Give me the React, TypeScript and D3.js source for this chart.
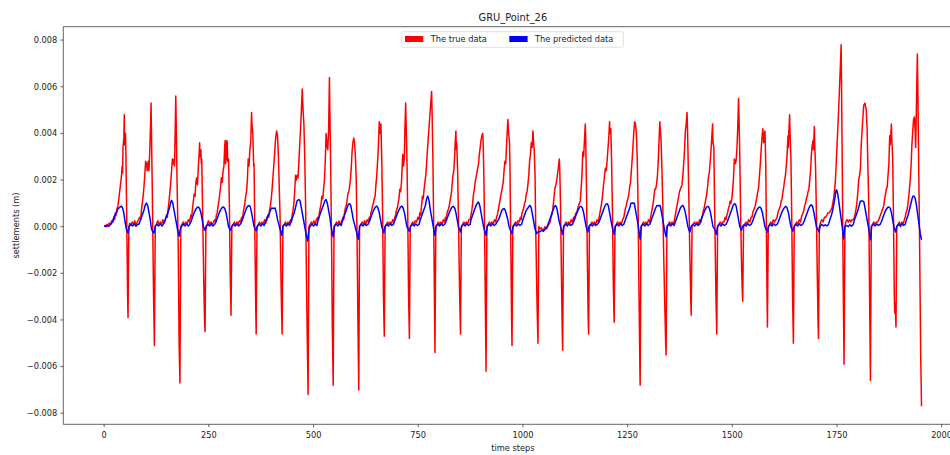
import React from "react";
import * as d3 from "d3";

// time step, settlement (m) — true data
const TRUE_DATA: [number, number][] = [
  [0,.00005],[3,.00002],[6,.0001],[9,.00004],[12,.00015],[15,.0001],[18,.00025],[21,.0002],[23,.0004],[25,.0003],[27,.0006],[29,.0005],[31,.0008],[33,.0009],[35,.0012],[37,.0015],[39,.0018],[41,.0021],[43,.0026],[44,.0023],[45,.0034],[46,.0036],[47,.0038],[48,.0048],[49,.0035],[50,.0037],[51,.0040],[52,.0030],[54,.0002],[56,-.0030],[57,-.0039],[58,-.0018],[59,.0000],
  [61,.00015],[64,.00005],[67,.0002],[70,.0001],[73,.00025],[76,.00008],[79,.0002],[82,.0003],[85,.0004],[87,.0003],[89,.0007],[91,.0010],[93,.0013],[95,.0017],[97,.0022],[99,.0028],[101,.0027],[103,.0024],[105,.0028],[107,.0024],[109,.0033],[111,.0045],[112,.0053],[113,.0040],[115,.0015],[118,-.0030],[120,-.0051],[121,-.0025],[122,.0000],
  [125,.0001],[128,.00025],[131,.00008],[134,.0002],[137,.0001],[140,.0003],[143,.00015],[146,.0003],[149,.0005],[151,.0004],[153,.0008],[155,.0011],[157,.0015],[159,.0019],[161,.0024],[163,.0029],[165,.0027],[167,.0029],[168,.0026],[169,.0035],[171,.0056],[172,.0045],[174,.0020],[177,-.0010],[179,-.0050],[181,-.0067],[182,-.0030],[183,.0000],
  [186,.0001],[189,.0002],[192,.00005],[195,.0002],[198,.0001],[201,.0003],[204,.0002],[207,.0005],[209,.0004],[211,.0008],[213,.0011],[215,.0014],[217,.0013],[219,.0019],[221,.0021],[223,.0018],[225,.0026],[227,.0032],[228,.0036],[229,.0030],[231,.0033],[232,.0027],[233,.0029],[235,.0008],[238,-.0025],[240,-.0042],[241,-.0045],[242,-.0020],[243,.0000],
  [246,.0001],[249,.00025],[252,.0001],[255,.0002],[258,.00005],[261,.0002],[264,.0003],[266,.0002],[268,.0005],[270,.0006],[272,.0009],[274,.0011],[276,.0014],[278,.0017],[280,.0021],[282,.0019],[284,.0024],[286,.0026],[288,.0035],[289,.0037],[290,.0027],[292,.0030],[293,.0037],[294,.0036],[295,.0028],[297,.0029],[299,.0010],[301,-.0020],[303,-.0038],[304,-.0018],[305,.0000],
  [308,.0001],[311,.0002],[314,.00005],[317,.0002],[320,.0001],[323,.00025],[326,.0002],[328,.0004],[330,.0003],[332,.0006],[334,.0008],[336,.0010],[338,.0013],[340,.0015],[342,.0020],[344,.0029],[346,.0026],[348,.0033],[350,.0036],[352,.0049],[353,.0044],[355,.0040],[357,.0026],[358,.0027],[360,-.0005],[362,-.0035],[363,-.0046],[364,-.0020],[365,.0000],
  [368,.0001],[371,.0002],[374,.00005],[377,.0002],[380,.0001],[383,.0003],[386,.00015],[389,.0003],[391,.0005],[393,.0004],[395,.0007],[397,.0009],[399,.0012],[401,.0016],[403,.0021],[405,.0026],[407,.0031],[409,.0037],[411,.0040],[412,.0041],[414,.0039],[416,.0031],[418,.0018],[420,.0005],[423,-.0030],[425,-.0046],[426,-.0022],[427,.0000],
  [430,.0001],[433,.0002],[436,.00005],[439,.0002],[442,.0001],[445,.0003],[447,.0002],[449,.0005],[451,.0007],[453,.0010],[455,.0015],[457,.0022],[459,.0020],[461,.0022],[463,.0021],[465,.0028],[467,.0035],[469,.0042],[471,.0050],[473,.0059],[475,.0050],[477,.0044],[479,.0030],[481,.0010],[484,-.0035],[486,-.0060],[487,-.0072],[488,-.0035],[489,.0000],
  [492,.0001],[495,.0002],[498,.0001],[501,.00025],[504,.0001],[507,.0003],[510,.0004],[512,.0003],[514,.0006],[516,.0008],[518,.0010],[520,.0013],[522,.0012],[524,.0016],[526,.0020],[528,.0028],[530,.0040],[532,.0035],[534,.0033],[536,.0041],[538,.0064],[539,.0050],[541,.0025],[543,-.0005],[545,-.0045],[547,-.0068],[548,-.0030],[549,.0000],
  [552,.0001],[555,.0002],[558,.0001],[561,.00025],[564,.0001],[567,.0002],[570,.0004],[572,.0003],[574,.0006],[576,.0008],[578,.0009],[580,.0011],[582,.0014],[584,.0015],[586,.0017],[588,.0020],[590,.0025],[592,.0032],[594,.0036],[596,.0038],[598,.0036],[600,.0030],[602,.0020],[604,-.0005],[606,-.0040],[608,-.0070],[609,-.0035],[610,.0000],
  [613,.0001],[616,.0002],[619,.0001],[622,.00025],[625,.0001],[628,.0003],[631,.0002],[633,.0004],[635,.0003],[637,.0006],[639,.0007],[641,.0009],[643,.0010],[645,.0012],[647,.0013],[649,.0018],[651,.0022],[653,.0028],[655,.0035],[657,.0045],[659,.0040],[661,.0044],[663,.0028],[665,.0005],[667,-.0030],[669,-.0047],[670,-.0022],[671,.0000],
  [674,.0001],[677,.0002],[680,.0001],[683,.0002],[686,.0001],[689,.0003],[692,.0002],[694,.0004],[696,.0005],[698,.0007],[700,.0008],[702,.0010],[704,.0012],[706,.0016],[708,.0015],[710,.0019],[712,.0027],[713,.0031],[715,.0026],[717,.0030],[718,.0040],[720,.0053],[721,.0045],[723,.0030],[725,.0005],[727,-.0030],[729,-.0048],[730,-.0022],[731,.0000],
  [734,.0001],[737,.0002],[740,.0001],[743,.00025],[746,.0002],[749,.0004],[752,.0003],[754,.0006],[756,.0005],[758,.0009],[760,.0013],[762,.0012],[764,.0016],[766,.0019],[768,.0022],[770,.0027],[772,.0033],[774,.0038],[776,.0043],[778,.0048],[780,.0053],[782,.0058],[783,.0050],[785,.0030],[787,.0000],[789,-.0035],[790,-.0054],[791,-.0025],[792,.0000],
  [795,.0001],[798,.0002],[801,.0001],[804,.0002],[807,.0001],[810,.0003],[813,.0002],[815,.0004],[817,.0003],[819,.0006],[821,.0007],[823,.0008],[825,.0010],[827,.0012],[829,.0014],[831,.0018],[833,.0022],[835,.0024],[837,.0030],[838,.0035],[840,.0041],[841,.0033],[842,.0036],[844,.0025],[846,.0005],[849,-.0030],[851,-.0046],[852,-.0022],[853,.0000],
  [856,.0001],[859,.0002],[862,.0001],[865,.0002],[868,.0001],[871,.0003],[874,.0003],[876,.0005],[878,.0007],[880,.0010],[882,.0014],[884,.0016],[886,.0019],[888,.0021],[890,.0023],[892,.0025],[894,.0027],[896,.0031],[898,.0034],[900,.0037],[902,.0039],[904,.0040],[905,.0037],[907,.0020],[909,-.0010],[911,-.0045],[912,-.0062],[913,-.0030],[914,.0000],
  [917,.0001],[920,.0002],[923,.0001],[926,.0002],[929,.0001],[932,.0003],[935,.0002],[937,.0004],[939,.0005],[941,.0007],[943,.0009],[945,.0011],[947,.0013],[949,.0015],[951,.0017],[953,.0019],[955,.0024],[957,.0028],[959,.0027],[961,.0035],[963,.0042],[964,.0046],[966,.0040],[968,.0036],[969,.0027],[971,-.0005],[973,-.0040],[974,-.0051],[975,-.0025],[976,.0000],
  [979,.0001],[982,.0002],[985,.0001],[988,.00025],[991,.0002],[994,.0004],[996,.0003],[998,.0006],[1000,.0007],[1002,.0008],[1004,.0010],[1006,.0011],[1008,.0014],[1010,.0015],[1012,.0018],[1014,.0022],[1016,.0028],[1018,.0031],[1020,.0036],[1022,.0034],[1024,.0041],[1026,.0035],[1027,.0033],[1029,.0022],[1031,-.0005],[1034,-.0035],[1036,-.0050],[1037,-.0025],[1038,.0000],
  [1041,-.0001],[1044,-.00005],[1047,-.00015],[1050,-.0001],[1053,.0000],[1056,-.0001],[1059,.0000],[1062,.0001],[1065,.0002],[1067,.0004],[1069,.0005],[1071,.0007],[1073,.0010],[1075,.0014],[1077,.0017],[1079,.0018],[1081,.0020],[1083,.0023],[1085,.0026],[1087,.0029],[1088,.0025],[1090,.0008],[1092,-.0020],[1094,-.0045],[1095,-.0053],[1096,-.0025],[1097,.0000],
  [1100,.0001],[1103,.0002],[1106,.0001],[1109,.0002],[1112,.0001],[1115,.0003],[1118,.0002],[1121,.0004],[1123,.0003],[1125,.0005],[1127,.0006],[1129,.0006],[1131,.0008],[1133,.0009],[1135,.0010],[1137,.0011],[1139,.0016],[1141,.0022],[1143,.0032],[1145,.0030],[1147,.0037],[1149,.0044],[1150,.0038],[1152,.0015],[1154,-.0015],[1156,-.0040],[1157,-.0046],[1158,-.0022],[1159,.0000],
  [1162,.0001],[1165,.0002],[1168,.0001],[1171,.0002],[1174,.0001],[1177,.0003],[1180,.0002],[1182,.0004],[1184,.0006],[1186,.0008],[1188,.0010],[1190,.0013],[1192,.0017],[1194,.0020],[1195,.0022],[1197,.0025],[1199,.0024],[1201,.0028],[1203,.0033],[1205,.0038],[1207,.0045],[1208,.0040],[1210,.0042],[1212,.0026],[1214,.0005],[1216,-.0025],[1218,-.0041],[1219,-.0020],[1220,.0000],
  [1223,.0001],[1226,.0002],[1229,.0001],[1232,.0002],[1235,.0001],[1238,.0003],[1241,.0004],[1243,.0006],[1245,.0008],[1247,.0009],[1249,.0011],[1251,.0012],[1253,.0014],[1255,.0017],[1257,.0019],[1259,.0024],[1261,.0029],[1263,.0035],[1265,.0041],[1267,.0045],[1269,.0044],[1271,.0040],[1273,.0030],[1275,.0010],[1277,-.0025],[1279,-.0055],[1280,-.0068],[1281,-.0035],[1282,.0000],
  [1285,.0001],[1288,.0002],[1291,.0001],[1294,.0002],[1297,.0001],[1300,.0003],[1303,.0002],[1305,.0004],[1307,.0006],[1309,.0008],[1311,.0010],[1313,.0013],[1315,.0016],[1317,.0016],[1319,.0018],[1321,.0021],[1323,.0027],[1325,.0036],[1327,.0045],[1328,.0042],[1330,.0037],[1332,.0025],[1334,.0010],[1336,-.0010],[1339,-.0035],[1341,-.0050],[1342,-.0055],[1343,-.0027],[1344,.0000],
  [1347,.0001],[1350,.0002],[1353,.0001],[1356,.0002],[1359,.0001],[1362,.0003],[1364,.0005],[1366,.0007],[1368,.0009],[1370,.0011],[1372,.0013],[1374,.0015],[1376,.0016],[1378,.0017],[1380,.0018],[1382,.0022],[1384,.0027],[1386,.0033],[1388,.0041],[1390,.0044],[1392,.0049],[1393,.0043],[1395,.0025],[1397,.0005],[1399,-.0015],[1401,-.0032],[1402,-.0038],[1403,-.0018],[1404,.0000],
  [1407,.0001],[1410,.0002],[1413,.0001],[1416,.0002],[1419,.0001],[1422,.0003],[1425,.0002],[1427,.0004],[1429,.0005],[1431,.0007],[1433,.0008],[1435,.0010],[1437,.0012],[1439,.0014],[1441,.0017],[1443,.0021],[1445,.0023],[1447,.0027],[1449,.0032],[1451,.0038],[1453,.0044],[1454,.0036],[1456,.0034],[1457,.0020],[1459,-.0005],[1461,-.0030],[1463,-.0046],[1464,-.0022],[1465,.0000],
  [1468,.0001],[1471,.0002],[1474,.0001],[1477,.0002],[1480,.0002],[1483,.0004],[1485,.0003],[1487,.0005],[1489,.0006],[1491,.0008],[1493,.0009],[1495,.0011],[1497,.0010],[1499,.0012],[1501,.0016],[1503,.0021],[1505,.0029],[1507,.0027],[1509,.0028],[1511,.0033],[1513,.0042],[1515,.0055],[1516,.0048],[1518,.0030],[1520,.0005],[1522,-.0015],[1524,-.0028],[1525,-.0032],[1526,-.0015],[1527,.0000],
  [1530,.0001],[1533,.0002],[1536,.0001],[1539,.0003],[1542,.0002],[1545,.0004],[1547,.0004],[1549,.0006],[1551,.0007],[1553,.0008],[1555,.0009],[1557,.0011],[1559,.0013],[1561,.0015],[1563,.0017],[1565,.0022],[1567,.0027],[1569,.0033],[1571,.0038],[1573,.0042],[1575,.0036],[1577,.0040],[1578,.0041],[1580,.0027],[1582,-.0010],[1583,-.0030],[1584,-.0043],[1585,-.0020],[1586,.0000],
  [1589,.0001],[1592,.0002],[1595,.0001],[1598,.0003],[1601,.0002],[1604,.0003],[1607,.0004],[1609,.0006],[1611,.0007],[1613,.0008],[1615,.0009],[1617,.0011],[1619,.0012],[1621,.0015],[1623,.0017],[1625,.0020],[1627,.0022],[1629,.0026],[1631,.0031],[1633,.0039],[1634,.0034],[1635,.0040],[1637,.0048],[1638,.0040],[1640,.0030],[1642,.0005],[1644,-.0030],[1646,-.0050],[1647,-.0025],[1648,.0000],
  [1651,.0001],[1654,.0002],[1657,.0001],[1660,.0003],[1663,.0002],[1665,.0004],[1667,.0005],[1669,.0006],[1671,.0007],[1673,.0009],[1675,.0010],[1677,.0012],[1679,.0013],[1681,.0015],[1683,.0016],[1685,.0020],[1687,.0024],[1689,.0031],[1691,.0035],[1693,.0037],[1694,.0033],[1696,.0043],[1697,.0035],[1699,.0025],[1701,.0005],[1703,-.0020],[1705,-.0042],[1706,-.0048],[1707,-.0022],[1708,.0000],
  [1711,.0002],[1714,.0003],[1717,.0002],[1720,.0004],[1723,.0004],[1726,.0005],[1729,.0006],[1732,.0006],[1735,.0007],[1738,.0008],[1740,.0010],[1742,.0012],[1744,.0015],[1746,.0019],[1748,.0026],[1750,.0034],[1752,.0042],[1754,.0050],[1756,.0059],[1758,.0068],[1760,.0078],[1761,.0060],[1763,.0020],[1765,-.0025],[1767,-.0059],[1768,-.0030],[1769,.0000],
  [1771,.0002],[1774,.0003],[1777,.0002],[1780,.0003],[1783,.0002],[1786,.0003],[1789,.0003],[1792,.0004],[1794,.0006],[1796,.0008],[1798,.0011],[1800,.0015],[1802,.0020],[1804,.0022],[1806,.0025],[1808,.0035],[1810,.0041],[1812,.0047],[1814,.0052],[1817,.0053],[1820,.0050],[1822,.0042],[1824,.0025],[1826,.0010],[1828,-.0030],[1830,-.0066],[1831,-.0032],[1832,.0000],
  [1835,.0001],[1838,.0002],[1841,.0001],[1844,.0002],[1847,.0002],[1850,.0003],[1852,.0004],[1854,.0005],[1856,.0006],[1858,.0007],[1860,.0008],[1862,.0009],[1864,.0012],[1866,.0014],[1868,.0016],[1870,.0017],[1872,.0022],[1874,.0027],[1876,.0039],[1877,.0035],[1878,.0037],[1880,.0044],[1881,.0038],[1883,.0030],[1885,.0005],[1887,-.0030],[1888,-.0037],[1889,-.0033],[1891,-.0043],[1892,-.0020],[1893,.0000],
  [1896,.0001],[1899,.0002],[1902,.0000],[1905,.0002],[1908,.0001],[1911,.0003],[1913,.0004],[1915,.0006],[1917,.0007],[1919,.0009],[1921,.0012],[1923,.0016],[1925,.0020],[1927,.0026],[1929,.0035],[1931,.0041],[1933,.0046],[1935,.0047],[1937,.0040],[1938,.0034],[1940,.0054],[1942,.0074],[1943,.0062],[1945,.0030],[1947,.0000],[1950,-.0055],[1952,-.0077],
];

// time step, settlement (m) — predicted data
const PRED_DATA: [number, number][] = [
  [0,.00003],[4,.0000],[8,.00004],[12,.00003],[16,.0001],[20,.00022],[25,.00048],[29,.0006],[33,.00077],[37,.00083],[41,.00088],[44,.0008],[47,.00058],[50,.0002],[53,-.0001],[57,-.00027],[60,.00002],
  [64,.0001],[68,.00003],[72,.00012],[76,.00002],[80,.0001],
  [83,.0001],[87,.0003],[91,.0005],[95,.0007],[98,.00092],[101,.00101],[104,.0009],[107,.0006],[110,.0003],[113,-.0001],[116,-.00022],[119,-.00027],[122,.00002],
  [126,.0001],[130,.00003],[134,.00012],[138,.00003],[141,.0001],
  [144,.0002],[148,.0004],[152,.0006],[156,.0008],[159,.00105],[161,.00113],[164,.001],[167,.0007],[170,.0004],[173,.0001],[176,-.0002],[179,-.00041],[182,-.0001],[185,.00002],
  [189,.0001],[193,.00003],[197,.00012],[201,.00003],[204,.0001],
  [207,.0002],[211,.0004],[215,.0006],[219,.00075],[222,.00082],[225,.00084],[228,.00078],[231,.0006],[234,.0003],[237,.0000],[241,-.00016],[244,.00002],
  [248,.0001],[252,.00003],[256,.00012],[260,.00003],[264,.0001],
  [267,.0002],[271,.0004],[275,.0006],[279,.00075],[282,.00082],[285,.00084],[288,.00078],[291,.0006],[294,.0003],[297,.0000],[302,-.00016],[305,.00002],
  [309,.0001],[313,.00003],[317,.00012],[321,.00003],[325,.0001],
  [328,.0002],[332,.0004],[336,.0006],[340,.0008],[343,.00088],[346,.00091],[349,.00085],[352,.0006],[355,.0003],[358,.0000],[363,-.00018],[366,.00002],
  [370,.0001],[374,.00003],[378,.00012],[382,.00005],
  [385,.0002],[389,.0004],[393,.0005],[397,.0007],[400,.0008],[404,.00078],[408,.0008],[411,.0006],[414,.0003],[417,.0001],[420,-.0001],[424,-.00037],[427,.00002],
  [431,.0001],[435,.00003],[439,.00012],[443,.00005],
  [446,.0002],[450,.0004],[454,.0006],[458,.0009],[461,.00112],[465,.00116],[468,.0011],[471,.0008],[474,.0005],[477,.0002],[480,-.0001],[483,-.0004],[486,-.00062],[489,-.0001],[492,.00002],
  [496,.0001],[500,.00003],[504,.00012],[508,.00005],
  [511,.0003],[515,.0005],[519,.0007],[523,.0009],[527,.0011],[530,.00116],[533,.0010],[536,.0007],[539,.0004],[542,.0000],[545,-.0003],[547,-.00043],[550,.00002],
  [554,.0001],[558,.00003],[562,.00012],[566,.00005],
  [568,.0002],[572,.0004],[576,.0006],[580,.0008],[583,.00095],[586,.00099],[589,.0009],[592,.0006],[595,.0003],[598,.0001],[602,-.0002],[607,-.00054],[610,.00002],
  [614,.0001],[618,.00003],[622,.00012],[626,.00005],[630,.0001],
  [633,.0002],[637,.0004],[641,.0006],[645,.00075],[648,.00085],[651,.00088],[654,.0008],[657,.0006],[660,.0003],[663,.0000],[668,-.00027],[671,.00002],
  [675,.0001],[679,.00003],[683,.00012],[687,.00005],[691,.0001],
  [693,.0002],[697,.0004],[701,.0006],[705,.00075],[708,.00085],[711,.00088],[714,.0008],[717,.0006],[720,.0003],[723,.0000],[729,-.0002],[732,.00002],
  [736,.0001],[740,.00003],[744,.00012],[748,.00005],[752,.0001],
  [755,.0003],[759,.0005],[763,.0007],[767,.0009],[770,.0012],[773,.00131],[776,.0011],[779,.0007],[782,.0004],[785,.0001],[788,-.0002],[790,-.00037],[793,.00002],
  [797,.0001],[801,.00003],[805,.00012],[809,.00005],[813,.0001],
  [816,.0002],[820,.0004],[824,.0006],[828,.00075],[831,.00085],[834,.00087],[837,.0008],[840,.0006],[843,.0003],[846,.0000],[851,-.00023],[854,.00002],
  [858,.0001],[862,.00003],[866,.00012],[870,.00005],[874,.0001],
  [876,.0003],[880,.0005],[884,.0007],[888,.0009],[891,.001],[894,.00106],[897,.0009],[900,.0006],[903,.0003],[906,.0000],[909,-.0002],[912,-.00037],[915,.00002],
  [919,.0001],[923,.00003],[927,.00012],[931,.00005],[935,.0001],
  [938,.0002],[942,.0003],[946,.0005],[950,.0007],[953,.00076],[955,.00078],[958,.0007],[961,.0005],[964,.0003],[967,.0000],[973.6,-.0003],[977,.00002],
  [981,.0001],[985,.00003],[989,.00012],[993,.00005],[997,.0001],
  [1000,.0003],[1004,.0005],[1008,.0007],[1012,.0008],[1015,.00088],[1017,.00091],[1020,.0008],[1023,.0005],[1026,.0002],[1029,-.0001],[1033,-.0003],[1037,-.0002],[1041,-.00022],[1045,-.00015],[1049,-.0002],[1053,-.0001],[1057,-.00005],
  [1060,.0001],[1064,.0003],[1068,.0005],[1072,.0007],[1075,.00085],[1078,.00091],[1081,.0008],[1084,.0005],[1087,.0002],[1090,.0000],[1095,-.00033],[1098,.00002],
  [1102,.0001],[1106,.00003],[1110,.00012],[1114,.00005],[1118,.0001],
  [1121,.0002],[1125,.0004],[1129,.0006],[1133,.00075],[1136,.00085],[1139,.00087],[1142,.0008],[1145,.0006],[1148,.0003],[1151,.0000],[1155,-.00023],[1158,.00002],
  [1162,.0001],[1166,.00003],[1170,.00012],[1174,.00005],[1178,.0001],
  [1182,.0002],[1186,.0004],[1190,.0006],[1194,.0008],[1198,.00095],[1201,.00099],[1204,.0009],[1207,.0006],[1210,.0003],[1213,.0000],[1218,-.00033],[1221,.00002],
  [1225,.0001],[1229,.00003],[1233,.00012],[1237,.00005],[1241,.0001],
  [1243,.0002],[1247,.0004],[1251,.0006],[1255,.0008],[1258,.001],[1262,.00101],[1266,.001],[1269,.0007],[1272,.0004],[1275,.0001],[1278,-.0003],[1280,-.00054],[1283,.00002],
  [1287,.0001],[1291,.00003],[1295,.00012],[1299,.00005],[1303,.0001],
  [1305,.0002],[1309,.0004],[1313,.0006],[1317,.0008],[1320,.0009],[1324,.00091],[1328,.0009],[1331,.0006],[1334,.0003],[1337,.0000],[1340,-.0003],[1342,-.00043],[1345,.00002],
  [1349,.0001],[1353,.00003],[1357,.00012],[1361,.00005],
  [1364,.0002],[1368,.0004],[1372,.0006],[1376,.0008],[1379,.00088],[1382,.00091],[1385,.0008],[1388,.0006],[1391,.0003],[1394,.0000],[1398.5,-.00023],[1402,.00002],
  [1406,.0001],[1410,.00003],[1414,.00012],[1418,.00005],[1422,.0001],
  [1424,.0002],[1428,.0004],[1432,.0006],[1436,.00075],[1439,.00085],[1442,.00087],[1445,.0008],[1448,.0006],[1451,.0003],[1454,.0000],[1458,-.0001],[1462,-.00033],[1465,.00002],
  [1469,.0001],[1473,.00003],[1477,.00012],[1481,.00005],[1485,.0001],
  [1488,.0002],[1492,.0004],[1496,.0006],[1500,.0008],[1503,.00095],[1506,.00099],[1509,.0009],[1512,.0006],[1515,.0003],[1518,.0000],[1522,-.00016],[1525,.00002],
  [1529,.0001],[1533,.00003],[1537,.00012],[1541,.00005],[1545,.0001],
  [1548,.0002],[1552,.0004],[1556,.0006],[1560,.00075],[1563,.00082],[1566,.00084],[1569,.00078],[1572,.0006],[1575,.0003],[1578,.0000],[1584,-.00023],[1587,.00002],
  [1591,.0001],[1595,.00003],[1599,.00012],[1603,.00005],[1607,.0001],
  [1610,.0002],[1614,.0004],[1618,.0006],[1622,.00075],[1625,.00083],[1628,.00087],[1631,.0008],[1634,.0006],[1637,.0003],[1640,.0000],[1645,-.00019],[1648,.00002],
  [1652,.0001],[1656,.00003],[1660,.00012],[1664,.00005],[1668,.0001],
  [1671,.0002],[1675,.0004],[1679,.0006],[1683,.0008],[1686,.0009],[1689,.00094],[1692,.00085],[1695,.0006],[1698,.0003],[1701,.0000],[1707,-.00023],[1710,.00002],
  [1714,.0001],[1718,.00003],[1722,.00008],[1726,.00003],[1730,.0001],
  [1733,.0003],[1737,.0005],[1741,.0008],[1745,.0012],[1747,.0015],[1749,.00158],[1752,.0014],[1755,.001],[1758,.0006],[1761,.0002],[1764,-.0002],[1766,-.00052],[1769,.0000],
  [1773,.00005],[1777,.0000],[1781,.00008],[1785,.00002],[1789,.0001],
  [1792,.0003],[1796,.0005],[1800,.0007],[1803,.0009],[1806,.0011],[1810,.0011],[1814,.00108],[1817,.0008],[1820,.0005],[1823,.0002],[1826,-.0001],[1830,-.00056],[1833,.00002],
  [1837,.0001],[1841,.00003],[1845,.00012],[1849,.00005],[1853,.0001],
  [1856,.0002],[1860,.0004],[1864,.0006],[1868,.00075],[1871,.00082],[1874,.00084],[1877,.0008],[1880,.0006],[1883,.0003],[1886,.0000],[1890,-.00023],[1893,.00002],
  [1897,.0001],[1901,.00003],[1905,.00012],[1909,.00005],[1913,.0001],
  [1916,.0003],[1920,.0005],[1924,.0008],[1928,.0011],[1931,.0013],[1934,.00131],[1937,.0012],[1940,.0009],[1943,.0005],[1946,.0001],[1949,-.0003],[1952,-.00056],
];

const X_TICKS = [0, 250, 500, 750, 1000, 1250, 1500, 1750, 2000];
const Y_TICKS = [-0.008, -0.006, -0.004, -0.002, 0, 0.002, 0.004, 0.006, 0.008];
const TITLE = "GRU_Point_26";
const X_LABEL = "time steps";
const Y_LABEL = "settlements (m)";
const LEGEND = [
  { label: "The true data", color: "#ff0000" },
  { label: "The predicted data", color: "#0000ff" },
];

const W = 950;
const H = 455;
const AX = { left: 63.3, right: 962.4, top: 26.7, bottom: 424.3 };
const FONT = "'DejaVu Sans', Verdana, sans-serif";
const FS = 8.25;

export default function App() {
  const xExt = d3.extent(TRUE_DATA, (d) => d[0]) as [number, number];
  const allY = [...TRUE_DATA, ...PRED_DATA].map((d) => d[1]);
  const yMin = d3.min(allY)!;
  const yMax = d3.max(allY)!;
  const xPad = (xExt[1] - xExt[0]) * 0.05;
  const yPad = (yMax - yMin) * 0.05;

  const x = d3.scaleLinear().domain([xExt[0] - xPad, xExt[1] + xPad]).range([AX.left, AX.right]);
  const y = d3.scaleLinear().domain([yMin - yPad, yMax + yPad]).range([AX.bottom, AX.top]);

  const line = d3
    .line<[number, number]>()
    .x((d) => x(d[0]))
    .y((d) => y(d[1]));

  const fmtY = (v: number) => d3.format(".3f")(v).replace("-", "\u2212");
  const cx = (AX.left + AX.right) / 2;
  const cy = (AX.top + AX.bottom) / 2;

  return (
    <svg
      width={W}
      height={H}
      style={{ position: "absolute", left: 0, top: 0, background: "#fff" }}
      fontFamily={FONT}
    >
      <rect x={0} y={0} width={W} height={H} fill="#fff" />
      <defs>
        <clipPath id="plotclip">
          <rect x={AX.left} y={AX.top} width={AX.right - AX.left} height={AX.bottom - AX.top} />
        </clipPath>
      </defs>
      <g clipPath="url(#plotclip)">
        <path d={line(TRUE_DATA) || ""} fill="none" stroke="#ff0000" strokeWidth={1.5} strokeLinejoin="round" />
        <path d={line(PRED_DATA) || ""} fill="none" stroke="#0000ff" strokeWidth={1.5} strokeLinejoin="round" />
      </g>

      {/* spines */}
      <g stroke="#222" strokeWidth={0.7} fill="none">
        <line x1={AX.left} x2={AX.left} y1={AX.top} y2={AX.bottom} />
        <line x1={AX.left} x2={AX.right} y1={AX.bottom} y2={AX.bottom} />
        <line x1={AX.left} x2={AX.right} y1={AX.top} y2={AX.top} />
        <line x1={AX.right} x2={AX.right} y1={AX.top} y2={AX.bottom} />
      </g>

      {/* x ticks */}
      {X_TICKS.map((t) => (
        <g key={"x" + t}>
          <line x1={x(t)} x2={x(t)} y1={AX.bottom} y2={AX.bottom + 2.9} stroke="#222" strokeWidth={0.7} />
          <text x={x(t)} y={AX.bottom + 13.8} textAnchor="middle" fontSize={FS} fill="#222">
            {t}
          </text>
        </g>
      ))}

      {/* y ticks */}
      {Y_TICKS.map((t) => (
        <g key={"y" + t}>
          <line x1={AX.left - 2.9} x2={AX.left} y1={y(t)} y2={y(t)} stroke="#222" strokeWidth={0.7} />
          <text x={AX.left - 6} y={y(t)} dy="0.35em" textAnchor="end" fontSize={FS} fill="#222">
            {fmtY(t)}
          </text>
        </g>
      ))}

      {/* axis labels */}
      <text x={cx} y={451} textAnchor="middle" fontSize={FS} fill="#222">
        {X_LABEL}
      </text>
      <text
        transform={`translate(18.5,${cy}) rotate(-90)`}
        textAnchor="middle"
        fontSize={FS}
        fill="#222"
      >
        {Y_LABEL}
      </text>

      {/* title */}
      <text x={cx} y={20.6} textAnchor="middle" fontSize={9.9} fill="#222">
        {TITLE}
      </text>

      {/* legend */}
      <g>
        <rect x={401.7} y={31.7} width={221.6} height={15.6} rx={1.6} fill="#fff" fillOpacity={0.8} stroke="#cccccc" strokeWidth={0.6} />
        {LEGEND.map((l, i) => {
          const x0 = i === 0 ? 405 : 509.3;
          return (
            <g key={l.label}>
              <rect x={x0} y={36} width={18.3} height={6} fill={l.color} />
              <text x={x0 + 25.7} y={42.4} fontSize={FS} fill="#222">
                {l.label}
              </text>
            </g>
          );
        })}
      </g>
    </svg>
  );
}
